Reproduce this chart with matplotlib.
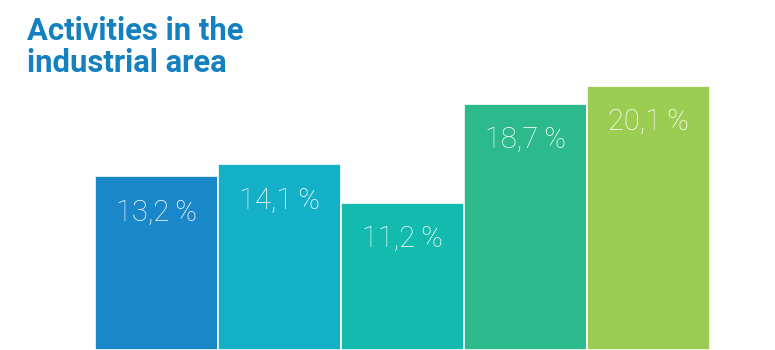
import matplotlib.pyplot as plt

# share of activities per group, in percent
categories = ["A", "B", "C", "D", "E"]
values = [13.2, 14.1, 11.2, 18.7, 20.1]
labels = ["13,2\u2009%", "14,1\u2009%", "11,2\u2009%", "18,7\u2009%", "20,1\u2009%"]
colors = ["#1a87c8", "#13b0c8", "#12bbae", "#2cba8c", "#9bcd52"]

fig = plt.figure(figsize=(7.75, 3.5), dpi=100)
ax = fig.add_axes([0, 0, 1, 1])

x = range(len(values))
ax.bar(x, values, width=1.0, color=colors, edgecolor="white", linewidth=1.2)

for xi, v, lab in zip(x, values, labels):
    ax.text(xi, v - 2.75, lab, ha="center", va="center", color="white",
            fontsize=21, family=["Roboto", "DejaVu Sans"], fontweight="light")

ax.set_xlim(-1.276, 5.025)
ax.set_ylim(0, 26.6)
ax.axis("off")

fig.text(0.035, 0.955, "Activities in the\nindustrial area", ha="left", va="top",
         fontsize=22.3, fontweight="bold", color="#1580c0",
         family=["Roboto", "DejaVu Sans"], linespacing=1.08)

fig.savefig("out.png", dpi=100)
